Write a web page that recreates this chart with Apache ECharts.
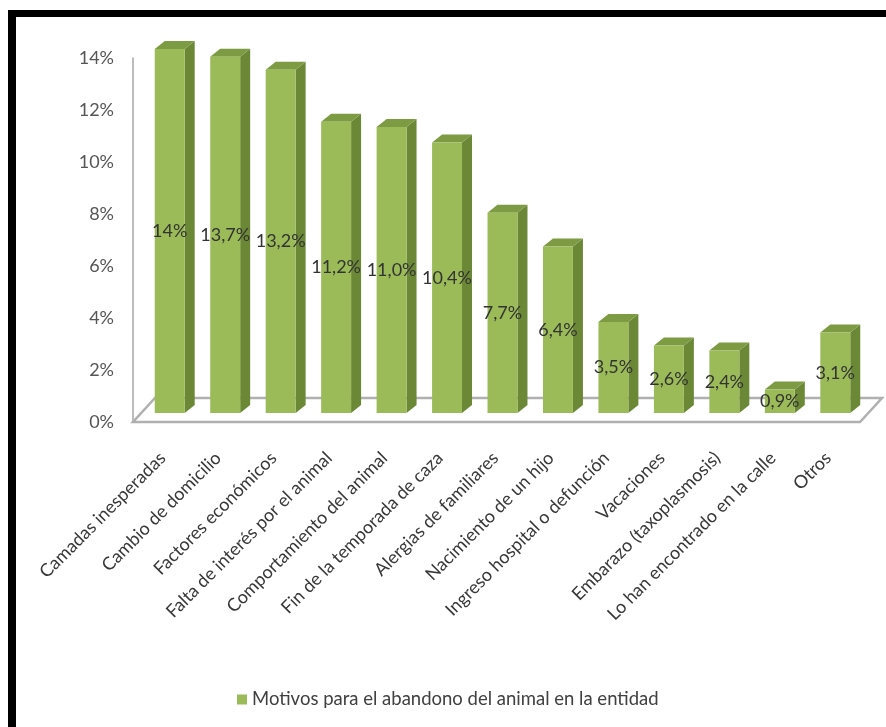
<!DOCTYPE html>
<html>
<head>
<meta charset="utf-8">
<script src="https://cdn.jsdelivr.net/npm/echarts@6/dist/echarts.min.js"></script>
<style>
html,body{margin:0;padding:0;background:#fff;}
#chart{width:886px;height:727px;}
</style>
</head>
<body>
<div id="chart"></div>
<script>
const categories = [
  'Camadas inesperadas',
  'Cambio de domicilio',
  'Factores económicos',
  'Falta de interés por el animal',
  'Comportamiento del animal',
  'Fin de la temporada de caza',
  'Alergias de familiares',
  'Nacimiento de un hijo',
  'Ingreso hospital o defunción',
  'Vacaciones',
  'Embarazo (taxoplasmosis)',
  'Lo han encontrado en la calle',
  'Otros'
];
const values = [14, 13.7, 13.2, 11.2, 11.0, 10.4, 7.7, 6.4, 3.5, 2.6, 2.4, 0.9, 3.1];
const valueLabels = ['14%', '13,7%', '13,2%', '11,2%', '11,0%', '10,4%', '7,7%', '6,4%', '3,5%', '2,6%', '2,4%', '0,9%', '3,1%'];
const seriesName = 'Motivos para el abandono del animal en la entidad';
const yTicks = [0, 2, 4, 6, 8, 10, 12, 14];

const FONT = 'Lato';
const chart = echarts.init(document.getElementById('chart'));

const barData = values.map((v, i) => [i, v]);

const option = {
  backgroundColor: '#fff',
  animation: false,
  grid: { left: 142, right: 23, top: 58, bottom: 305 },
  graphic: [
    { type: 'rect', shape: { x: 8, y: 10, width: 878, height: 7 }, style: { fill: '#000' }, z: 100 },
    { type: 'rect', shape: { x: 8, y: 10, width: 8, height: 717 }, style: { fill: '#000' }, z: 100 }
  ],
  legend: {
    data: [{ name: seriesName, icon: 'rect' }],
    left: 232, top: 685,
    itemWidth: 10, itemHeight: 10, itemGap: 6,
    textStyle: { fontFamily: FONT, fontSize: 18.5, color: '#404040' }
  },
  xAxis: {
    type: 'category',
    data: categories,
    axisLine: { show: false },
    axisTick: { show: false },
    axisLabel: {
      interval: 0, rotate: 45, margin: 26,
      padding: [0, 10, 0, 0],
      fontFamily: FONT, fontSize: 18, color: '#383838'
    }
  },
  yAxis: {
    type: 'value',
    min: yTicks[0], max: yTicks[yTicks.length - 1], interval: 2,
    offset: 9,
    axisLine: { show: true, lineStyle: { color: '#a6a6a6', width: 1.5 } },
    axisTick: { show: false },
    splitLine: { show: false },
    axisLabel: {
      margin: 19,
      fontFamily: FONT, fontSize: 18, color: '#555555',
      formatter: v => v + '%'
    }
  },
  series: [
    {
      type: 'custom',
      name: 'floor',
      silent: true,
      z: 1,
      data: [[0, 0]],
      renderItem: function (params, api) {
        const cs = params.coordSys;
        const yb = api.coord([0, 0])[1];
        const fl = [cs.x - 9, yb];
        const fr = [cs.x + cs.width - 3, yb];
        const ddx = 22, ddy = 24;
        return {
          type: 'polygon',
          shape: { points: [fl, fr, [fr[0] + ddx, fr[1] - ddy], [fl[0] + ddx, fl[1] - ddy]] },
          style: { fill: '#fff', stroke: '#b0b0b0', lineWidth: 2.5 }
        };
      }
    },
    {
      type: 'custom',
      name: seriesName,
      z: 2,
      itemStyle: { color: '#9BBB59' },
      data: barData,
      renderItem: function (params, api) {
        const i = api.value(0), v = api.value(1);
        const topPt = api.coord([i, v]);
        const basePt = api.coord([i, 0]);
        const band = api.size([1, 0])[0];
        const w = band * 0.54;
        const x0 = topPt[0] - w / 2, x1 = x0 + w;
        const lift = 9;
        const yT = topPt[1] - lift, yB = basePt[1] - lift;
        const dx = 10, dy = 8;
        return {
          type: 'group',
          children: [
            { type: 'polygon', shape: { points: [[x1, yT], [x1 + dx, yT - dy], [x1 + dx, yB - dy], [x1, yB]] }, style: { fill: '#6B8836' } },
            { type: 'polygon', shape: { points: [[x0, yT], [x1, yT], [x1 + dx, yT - dy], [x0 + dx, yT - dy]] }, style: { fill: '#7D9B42' } },
            { type: 'rect', shape: { x: x0, y: yT, width: w, height: yB - yT }, style: { fill: '#9BBB59' } },
            { type: 'text', x: (x0 + x1) / 2, y: (yT + yB) / 2, style: {
                text: valueLabels[params.dataIndex], fontFamily: FONT, fontSize: 18, fill: '#333333',
                align: 'center', verticalAlign: 'middle' } }
          ]
        };
      }
    }
  ]
};
chart.setOption(option);
</script>
</body>
</html>
